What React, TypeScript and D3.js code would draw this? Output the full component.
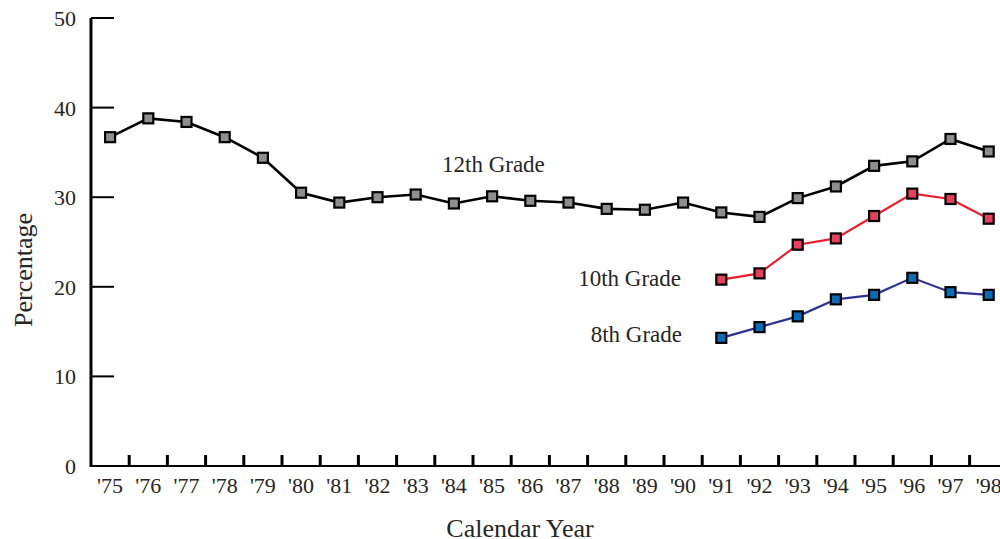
import React from "react";
import * as d3 from "d3";

const years = ["'75","'76","'77","'78","'79","'80","'81","'82","'83","'84","'85","'86","'87","'88","'89","'90","'91","'92","'93","'94","'95","'96","'97","'98"];
const grade12 = [36.7,38.8,38.4,36.7,34.4,30.5,29.4,30.0,30.3,29.3,30.1,29.6,29.4,28.7,28.6,29.4,28.3,27.8,29.9,31.2,33.5,34.0,36.5,35.1];
const grade10Years = ["'91","'92","'93","'94","'95","'96","'97","'98"];
const grade10 = [20.8,21.5,24.7,25.4,27.9,30.4,29.8,27.6];
const grade8 = [14.3,15.5,16.7,18.6,19.1,21.0,19.4,19.1];
const yTicks = [0,10,20,30,40,50];

const W = 1000, H = 539;
const x0 = 91, step = 38.2;

export default function App() {
  const x = d3.scaleBand<string>().domain(years).range([x0, x0 + step * years.length]).padding(0);
  const y = d3.scaleLinear().domain([0, 50]).range([466, 18]);
  const cx = (yr: string) => (x(yr) as number) + x.bandwidth() / 2;

  const line = d3.line<[string, number]>().x(d => cx(d[0])).y(d => y(d[1]));

  const s12: [string, number][] = years.map((yr, i) => [yr, grade12[i]]);
  const s10: [string, number][] = grade10Years.map((yr, i) => [yr, grade10[i]]);
  const s8: [string, number][] = grade10Years.map((yr, i) => [yr, grade8[i]]);

  const series = [
    { data: s12, stroke: "#000000", width: 2.6, fill: "#8e8e8e" },
    { data: s10, stroke: "#ee1c2e", width: 2.2, fill: "#e8405c" },
    { data: s8, stroke: "#2e3192", width: 2.2, fill: "#0b6db7" },
  ];

  const font = "'Liberation Serif', 'Times New Roman', serif";
  const textColor = "#262626";
  const ms = 10;

  return (
    <svg width={W} height={H} style={{ position: "absolute", left: 0, top: 0, background: "#fff" }} fontFamily={font}>
      {/* y axis */}
      <line x1={x0} x2={x0} y1={y(50)} y2={y(0) + 1} stroke="#000" strokeWidth={3} />
      {yTicks.map(t => (
        <g key={t}>
          <line x1={x0} x2={x0 + 23} y1={y(t)} y2={y(t)} stroke="#000" strokeWidth={2} />
          <text x={76} y={y(t)} dy="0.36em" textAnchor="end" fontSize={22} fill={textColor}>{t}</text>
        </g>
      ))}
      {/* x axis */}
      <line x1={x0} x2={W} y1={y(0)} y2={y(0)} stroke="#000" strokeWidth={2.2} />
      {years.slice(1).map(yr => (
        <line key={yr} x1={x(yr) as number} x2={x(yr) as number} y1={y(0)} y2={y(0) - 11} stroke="#000" strokeWidth={3} />
      ))}
      {years.map(yr => (
        <text key={yr} x={cx(yr)} y={493} textAnchor="middle" fontSize={22} fill={textColor}>{yr}</text>
      ))}
      {/* titles */}
      <text x={520} y={537} textAnchor="middle" fontSize={26} fill={textColor}>Calendar Year</text>
      <text transform={`translate(32,270) rotate(-90)`} textAnchor="middle" fontSize={26} fill={textColor}>Percentage</text>
      {/* lines */}
      {series.map((s, i) => (
        <path key={i} d={line(s.data) || ""} fill="none" stroke={s.stroke} strokeWidth={s.width} />
      ))}
      {series.map((s, i) => (
        <g key={"m" + i}>
          {s.data.map(d => (
            <rect key={d[0]} x={cx(d[0]) - ms / 2} y={y(d[1]) - ms / 2} width={ms} height={ms}
              fill={s.fill} stroke="#000" strokeWidth={2.2} />
          ))}
        </g>
      ))}
      {/* labels */}
      <text x={442} y={172} fontSize={23} fill={textColor}>12th Grade</text>
      <text x={681} y={286} textAnchor="end" fontSize={23} fill={textColor}>10th Grade</text>
      <text x={682} y={342} textAnchor="end" fontSize={23} fill={textColor}>8th Grade</text>
    </svg>
  );
}
